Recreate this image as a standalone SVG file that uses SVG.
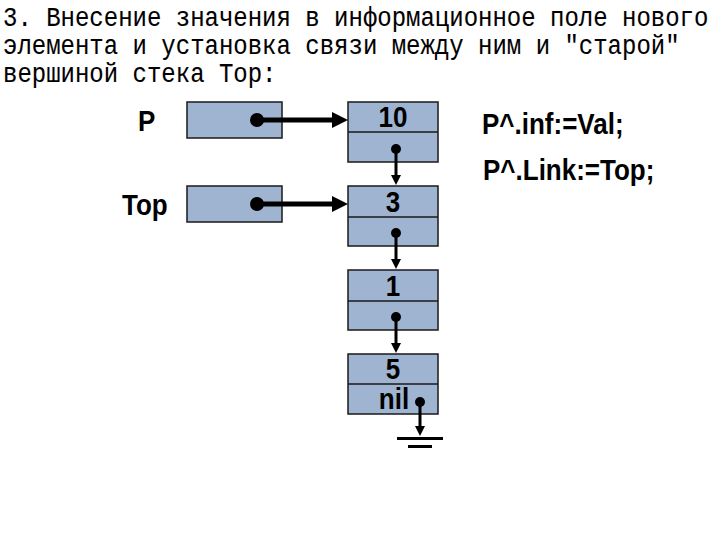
<svg xmlns="http://www.w3.org/2000/svg" width="720" height="540" viewBox="0 0 720 540">
<style>
.title{font-family:"Liberation Mono","Courier New",monospace;font-size:24px;fill:#000;stroke:#000;stroke-width:0.1}
.lbl{font-family:"Liberation Sans",Arial,sans-serif;font-weight:bold;font-size:26px;fill:#000}
.box{fill:#9fb4d0;stroke:#1a1a1a;stroke-width:1.5}
.hl{stroke:#000;stroke-width:5;fill:none}
.vl{stroke:#000;stroke-width:3;fill:none}
.dot{fill:#000}
.gnd{stroke:#000;stroke-width:3}
</style>
<defs>
<marker id="ah" markerUnits="userSpaceOnUse" markerWidth="18" markerHeight="18" refX="6" refY="8" orient="auto" viewBox="0 0 18 16">
<path d="M0,0 L16,8 L0,16 z" fill="#000"/>
</marker>
<marker id="av" markerUnits="userSpaceOnUse" markerWidth="14" markerHeight="12" refX="3" refY="5" orient="auto" viewBox="0 0 14 10">
<path d="M0,0 L10,5 L0,10 z" fill="#000"/>
</marker>
</defs>
<g id="title">
<text class="title" transform="translate(3,26) scale(1,1.12)">3. Внесение значения в информационное поле нового</text>
<text class="title" transform="translate(3,54) scale(1,1.12)">элемента и установка связи между ним и "старой"</text>
<text class="title" transform="translate(3,82) scale(1,1.12)">вершиной стека Top:</text>
</g>
<g id="ptr-P">
<text class="lbl" transform="translate(138,131) scale(1,1.1)">P</text>
<rect class="box" x="187" y="102" width="95" height="36"/>
</g>
<g id="ptr-Top">
<text class="lbl" transform="translate(122,215) scale(1,1.1)">Top</text>
<rect class="box" x="187" y="186" width="95" height="36"/>
</g>
<g id="node-10">
<rect class="box" x="348" y="102" width="90" height="60"/>
<line x1="348" y1="132" x2="438" y2="132" stroke="#1a1a1a" stroke-width="1.5"/>
<text class="lbl" text-anchor="middle" transform="translate(393,127) scale(1,1.1)">10</text>
</g>
<g id="node-3">
<rect class="box" x="348" y="186" width="90" height="60"/>
<line x1="348" y1="217" x2="438" y2="217" stroke="#1a1a1a" stroke-width="1.5"/>
<text class="lbl" text-anchor="middle" transform="translate(393,212) scale(1,1.1)">3</text>
</g>
<g id="node-1">
<rect class="box" x="348" y="270" width="90" height="60"/>
<line x1="348" y1="301" x2="438" y2="301" stroke="#1a1a1a" stroke-width="1.5"/>
<text class="lbl" text-anchor="middle" transform="translate(393,296) scale(1,1.1)">1</text>
</g>
<g id="node-5">
<rect class="box" x="348" y="354" width="90" height="60"/>
<line x1="348" y1="384" x2="438" y2="384" stroke="#1a1a1a" stroke-width="1.5"/>
<text class="lbl" text-anchor="middle" transform="translate(393,379) scale(1,1.1)">5</text>
<text class="lbl" text-anchor="middle" transform="translate(394,409) scale(1,1.1)">nil</text>
</g>
<g id="code">
<text class="lbl" transform="translate(482,134) scale(1,1.1)">P^.inf:=Val;</text>
<text class="lbl" transform="translate(483,180) scale(1,1.1)">P^.Link:=Top;</text>
</g>
<g id="connectors">
<circle class="dot" cx="257" cy="120" r="7"/>
<line class="hl" x1="257" y1="120" x2="338" y2="120" marker-end="url(#ah)"/>
<circle class="dot" cx="257" cy="204" r="7"/>
<line class="hl" x1="257" y1="204" x2="338" y2="204" marker-end="url(#ah)"/>
<circle class="dot" cx="396" cy="149" r="5"/>
<line class="vl" x1="396" y1="149" x2="396" y2="178" marker-end="url(#av)"/>
<circle class="dot" cx="396" cy="233" r="5"/>
<line class="vl" x1="396" y1="233" x2="396" y2="262" marker-end="url(#av)"/>
<circle class="dot" cx="396" cy="317" r="5"/>
<line class="vl" x1="396" y1="317" x2="396" y2="346" marker-end="url(#av)"/>
<circle class="dot" cx="420" cy="402" r="5"/>
<line class="vl" x1="420" y1="402" x2="420" y2="429" marker-end="url(#av)"/>
<line class="gnd" x1="397" y1="438.5" x2="443" y2="438.5"/>
<line class="gnd" x1="408" y1="446.5" x2="432" y2="446.5"/>
</g>
</svg>
